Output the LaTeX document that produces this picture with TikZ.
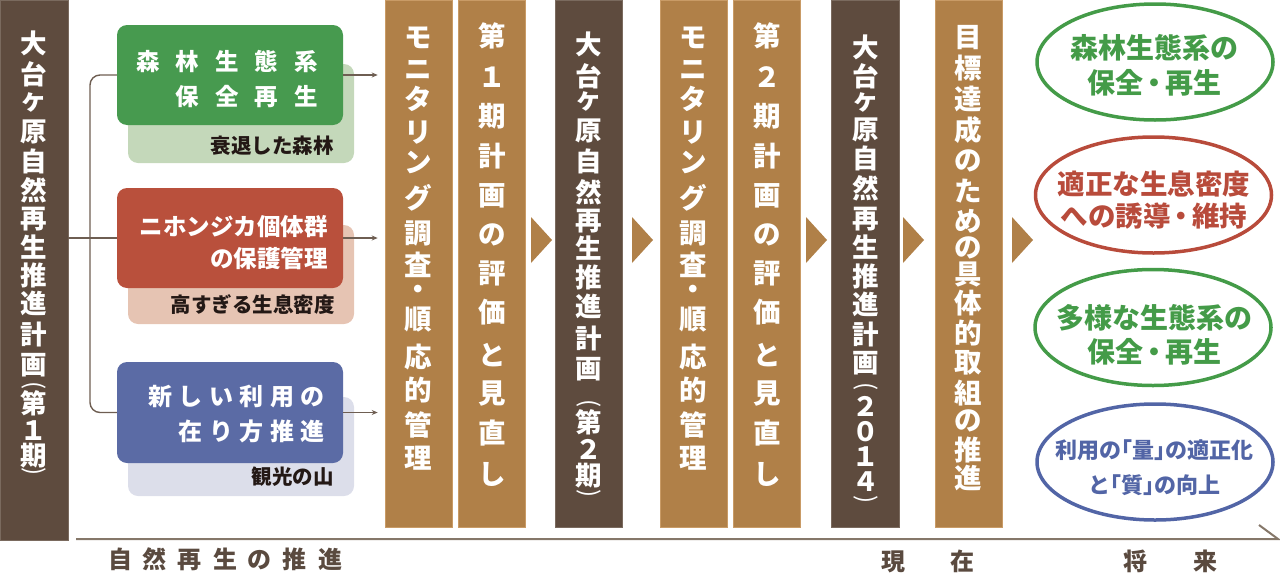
\documentclass[tikz,border=0pt]{standalone}
\usepackage{fontspec}
\usetikzlibrary{shapes.geometric,arrows.meta}
\setmainfont{Noto Sans CJK JP}
\newcommand\jpb{\bfseries}
\definecolor{dbrown}{HTML}{5E4B3E}
\definecolor{tanc}{HTML}{B08048}
\definecolor{tanedge}{HTML}{C99B66}
\definecolor{dedge}{HTML}{7A6A5E}
\definecolor{gbox}{HTML}{479A4F}
\definecolor{gsh}{HTML}{C4D8BA}
\definecolor{rbox}{HTML}{B9503C}
\definecolor{rsh}{HTML}{E6C4B3}
\definecolor{bbox}{HTML}{5B6BA5}
\definecolor{bsh}{HTML}{DCDEEA}
\definecolor{gell}{HTML}{449B48}
\definecolor{rell}{HTML}{B84B3B}
\definecolor{bell}{HTML}{5265A6}
\definecolor{lineb}{HTML}{6E5E52}
\definecolor{tl}{HTML}{857769}
\definecolor{labc}{HTML}{5A4A3F}
\definecolor{subc}{HTML}{231815}
\newcommand\vcol[4]{\foreach \ch/\yy [count=\i] in {#4} {\node[#1] (#2-\i) at (#3,\yy) {\ch};}}
\tikzset{
  vch/.style={inner sep=0pt, text=white, font=\jpb\fontsize{27.5}{27.5}\selectfont},
  vchd/.style={inner sep=0pt, text=white, font=\jpb\fontsize{26.5}{26.5}\selectfont},
  vpar/.style={inner sep=0pt, text=white, rotate=-90, font=\mdseries\fontsize{24}{24}\selectfont},
  tanbar/.style={fill=tanc, draw=tanedge, line width=0.6pt, minimum width=67pt, minimum height=527pt, inner sep=0pt},
  darkbar/.style={fill=dbrown, draw=dedge, line width=0.6pt, minimum width=67.5pt, minimum height=527pt, inner sep=0pt},
  mainbox/.style={rounded corners=10pt, minimum width=226pt, minimum height=100pt, inner sep=0pt},
  shadowbox/.style={rounded corners=10pt, minimum width=226pt, minimum height=99pt, inner sep=0pt},
  boxtxt/.style={inner sep=0pt, text=white, align=right, anchor=east},
  sublab/.style={inner sep=0pt, text=subc, anchor=east, font=\jpb\fontsize{20.5}{20.5}\selectfont},
  conn/.style={draw=lineb, line width=1.4pt},
  ell/.style={ellipse, line width=3.5pt, minimum width=236pt, minimum height=116pt, inner sep=0pt},
  elltxt/.style={inner sep=0pt, align=center},
  tline/.style={draw=tl, line width=2pt},
  bottomlab/.style={inner sep=0pt, text=labc, font=\jpb\fontsize{24}{24}\selectfont},
}
\begin{document}
\begin{tikzpicture}[x=1pt,y=-1pt]
\useasboundingbox (0,0) rectangle (1280,581);
% vertical bars
\node[darkbar, minimum width=68pt, minimum height=540pt] (L) at (34,270) {};
\node[tanbar] (b1) at (418.5,263.5) {};
\node[tanbar] (b2) at (492,263.5) {};
\node[darkbar] (b3) at (589,263.5) {};
\node[tanbar] (b4) at (693.5,263.5) {};
\node[tanbar] (b5) at (767,263.5) {};
\node[darkbar] (b6) at (865.5,263.5) {};
\node[tanbar] (b7) at (968.5,263.5) {};
% chevrons
\foreach \xx in {531,632,806,903,1012} {\fill[tanc] (\xx,217) -- ++(21,23) -- ++(-21,23) -- cycle;}
% vertical texts
\vcol{vchd}{lt}{34}{大/43, 台/74, ヶ/103, 原/132, 自/161, 然/190, 再/219, 生/247, 推/275, 進/303, 計/334, 画/365, 第/403, １/431, 期/456}
\node[vpar] (lt-po) at (34,386) {(};
\node[vpar] (lt-pc) at (34,472) {)};
\vcol{vch}{t1}{418.5}{モ/38, ニ/70, タ/99, リ/133, ン/162, グ/198, 調/233, 査/265, ・/292, 順/320, 応/357, 的/390, 管/425, 理/458}
\vcol{vch}{t2}{492}{第/36, １/77, 期/116, 計/156, 画/196, の/235, 評/273, 価/312, と/355, 見/394, 直/433, し/474}
\vcol{vchd}{t3}{589}{大/44, 台/76, ヶ/102, 原/131, 自/161, 然/192, 再/221, 生/248, 推/277, 進/306, 計/338, 画/369, 第/422, ２/449, 期/476}
\node[vpar] (t3-po) at (589,404) {(};
\node[vpar] (t3-pc) at (589,494) {)};
\vcol{vch}{t4}{693.5}{モ/38, ニ/70, タ/99, リ/133, ン/162, グ/198, 調/233, 査/265, ・/292, 順/320, 応/357, 的/390, 管/425, 理/458}
\vcol{vch}{t5}{767}{第/36, ２/77, 期/116, 計/156, 画/196, の/235, 評/273, 価/312, と/355, 見/394, 直/433, し/474}
\vcol{vchd}{t6}{865.5}{大/47, 台/76, ヶ/103, 原/130, 自/158, 然/188, 再/219, 生/247, 推/276, 進/304, 計/334, 画/363, ２/406, ０/432, １/457, ４/482}
\node[vpar] (t6-po) at (865.5,387) {(};
\node[vpar] (t6-pc) at (865.5,500) {)};
\vcol{vch}{t7}{968.5}{目/38, 標/68, 達/99, 成/130, の/161, た/191, め/221, の/248, 具/274, 体/303, 的/333, 取/363, 組/393, の/421, 推/450, 進/478}
% left boxes
\node[shadowbox, fill=gsh] (gs) at (241,113.5) {};
\node[mainbox, fill=gbox] (green) at (230,75) {};
\node[shadowbox, fill=rsh] (rs) at (241,274.5) {};
\node[mainbox, fill=rbox] (red) at (230,238) {};
\node[shadowbox, fill=bsh] (bs) at (241,446.5) {};
\node[mainbox, fill=bbox, minimum height=101pt] (blue) at (230,412.5) {};
\node[boxtxt, font=\jpb\fontsize{23.5}{35.5}\selectfont] (gt) at (318,79) {森\hspace{16pt}林\hspace{16pt}生\hspace{16pt}態\hspace{16pt}系\\保\hspace{16pt}全\hspace{16pt}再\hspace{16pt}生};
\node[boxtxt, font=\jpb\fontsize{23.5}{32}\selectfont] (rt) at (328,243) {ニホンジカ個体群\\の保護管理};
\node[boxtxt, font=\jpb\fontsize{24}{35}\selectfont] (bt) at (325,414) {新\hspace{6.5pt}し\hspace{6.5pt}い\hspace{6.5pt}利\hspace{6.5pt}用\hspace{6.5pt}の\\在\hspace{6.5pt}り\hspace{6.5pt}方\hspace{6.5pt}推\hspace{6.5pt}進};
\node[sublab] (gl) at (334,145.5) {衰退した森林};
\node[sublab] (rl) at (335,305) {高すぎる生息密度};
\node[sublab] (bl) at (334,477) {観光の山};
% connectors
\coordinate (split) at (90,0);
\draw[conn] (L.east |- red.west) -- (red.west);
\draw[conn, rounded corners=10pt] (green.west) -- (green.west -| split) -- (blue.west -| split) -- (blue.west);
\foreach \bx in {green,red,blue} {\draw[conn, -{Stealth[length=6pt,width=5pt]}, shorten >=7pt] (\bx.east) -- (\bx.east -| b1.west);}
% ellipses
\node[ell, draw=gell] (e1) at (1155,62) {};
\node[ell, draw=rell] (e2) at (1153.5,195) {};
\node[ell, draw=gell] (e3) at (1153,327.5) {};
\node[ell, draw=bell] (e4) at (1155,462) {};
\node[elltxt, text=gell, font=\jpb\fontsize{28}{35.5}\selectfont] (e1t) at (1154,65.5) {森林生態系の\\保全\kern-3pt・\kern-3pt再生};
\node[elltxt, text=rell, font=\jpb\fontsize{27.5}{32}\selectfont] (e2t) at (1154,200) {適正な生息密度\\への誘導\kern-3pt・\kern-3pt維持};
\node[elltxt, text=gell, font=\jpb\fontsize{28}{34}\selectfont] (e3t) at (1154,335) {多様な生態系の\\保全\kern-3pt・\kern-3pt再生};
\node[elltxt, text=bell, font=\jpb\fontsize{22}{35}\selectfont] (e4t) at (1154,467.5) {利用の｢量｣の適正化\\と｢質｣の向上};
% timeline
\coordinate (tl0) at (76,539);
\coordinate (tl1) at (1278,539);
\coordinate (tl2) at (1259,525);
\draw[tline] (tl0) -- (tl1) -- (tl2);
\node[bottomlab] (lab1) at (225,559.5) {自\hspace{11pt}然\hspace{11pt}再\hspace{11pt}生\hspace{11pt}の\hspace{11pt}推\hspace{11pt}進};
\node[bottomlab] (lab2) at (928,561) {現\hspace{45pt}在};
\node[bottomlab] (lab3) at (1170.5,561) {将\hspace{46pt}来};
\end{tikzpicture}
\end{document}
